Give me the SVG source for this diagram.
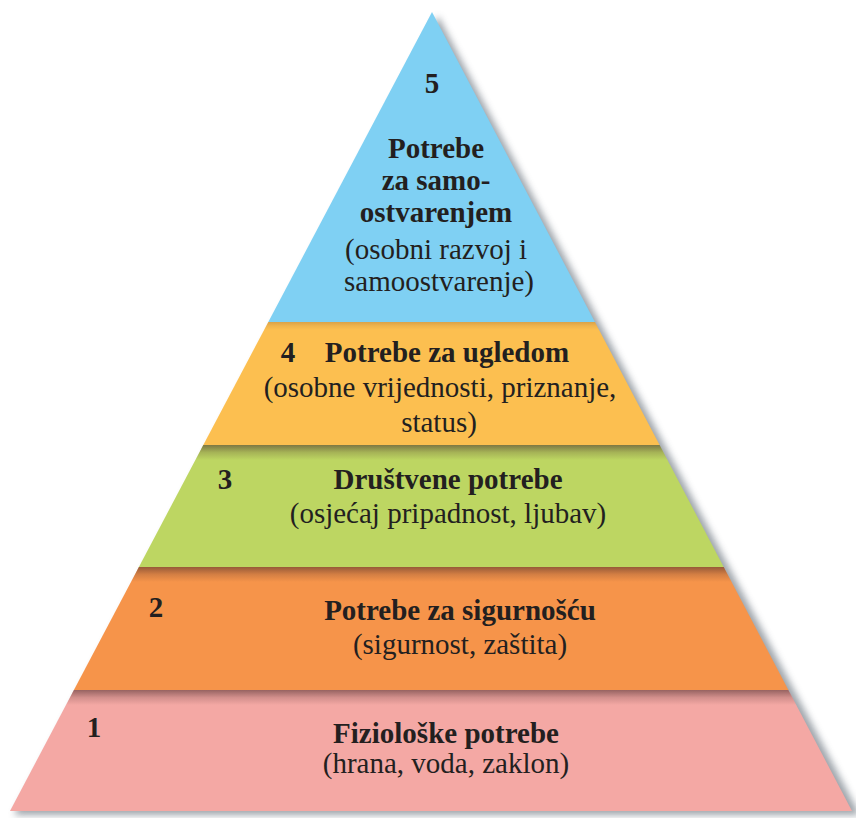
<svg xmlns="http://www.w3.org/2000/svg" width="856" height="818" viewBox="0 0 856 818">
  <style>
    text { font-family: "Liberation Serif", "Times New Roman", serif; font-size: 29px; fill: #231f20; text-anchor: middle; }
    .b { font-weight: bold; }
    .num { font-weight: bold; }
  </style>
  <defs>
    <filter id="blur" x="-10%" y="-10%" width="120%" height="120%">
      <feGaussianBlur stdDeviation="3.5"/>
    </filter>
    <linearGradient id="shade" x1="0" y1="0" x2="0" y2="1">
      <stop offset="0" stop-color="#4a2a2a" stop-opacity="0.55"/>
      <stop offset="0.5" stop-color="#4a2a2a" stop-opacity="0.2"/>
      <stop offset="1" stop-color="#4a2a2a" stop-opacity="0"/>
    </linearGradient>
    <clipPath id="c4"><polygon points="268.3,322 594.9,322 659.6,445 203.3,445"/></clipPath>
    <clipPath id="c3"><polygon points="203.3,445 659.6,445 723.7,567 138.9,567"/></clipPath>
    <clipPath id="c2"><polygon points="138.9,567 723.7,567 788.4,690 73.9,690"/></clipPath>
    <clipPath id="c1"><polygon points="73.9,690 788.4,690 852,811 10,811"/></clipPath>
  </defs>
  <rect width="856" height="818" fill="#ffffff"/>

  <g id="shadow">
    <polygon points="438,16 860,815 14,815" fill="#7f8790" opacity="0.75" filter="url(#blur)"/>
  </g>

  <g id="level5">
    <polygon points="432,12 594.9,322 268.3,322" fill="#7fd0f3"/>
    <text class="num" x="432" y="93">5</text>
    <text class="b" x="436" y="158">Potrebe</text>
    <text class="b" x="436" y="190">za samo-</text>
    <text class="b" x="436" y="222">ostvarenjem</text>
    <text x="436" y="259">(osobni razvoj i</text>
    <text x="439" y="291">samoostvarenje)</text>
  </g>

  <g id="level4">
    <polygon points="268.3,322 594.9,322 659.6,445 203.3,445" fill="#fcbf50"/>
    <rect x="190" y="322" width="480" height="8" fill="url(#shade)" clip-path="url(#c4)" opacity="0.35"/>
    <text class="num" x="288" y="362">4</text>
    <text class="b" x="447" y="362">Potrebe za ugledom</text>
    <text x="440" y="397">(osobne vrijednosti, priznanje,</text>
    <text x="439" y="432">status)</text>
  </g>

  <g id="level3">
    <polygon points="203.3,445 659.6,445 723.7,567 138.9,567" fill="#bdd662"/>
    <rect x="130" y="445" width="600" height="15" fill="url(#shade)" clip-path="url(#c3)"/>
    <text class="num" x="225" y="489">3</text>
    <text class="b" x="448" y="489">Društvene potrebe</text>
    <text x="448" y="523">(osjećaj pripadnost, ljubav)</text>
  </g>

  <g id="level2">
    <polygon points="138.9,567 723.7,567 788.4,690 73.9,690" fill="#f6944a"/>
    <rect x="70" y="567" width="725" height="15" fill="url(#shade)" clip-path="url(#c2)"/>
    <text class="num" x="156" y="617">2</text>
    <text class="b" x="460" y="620">Potrebe za sigurnošću</text>
    <text x="460" y="654">(sigurnost, zaštita)</text>
  </g>

  <g id="level1">
    <polygon points="73.9,690 788.4,690 852,811 10,811" fill="#f4a8a4"/>
    <rect x="5" y="690" width="850" height="15" fill="url(#shade)" clip-path="url(#c1)"/>
    <text class="num" x="94" y="737">1</text>
    <text class="b" x="446" y="743">Fiziološke potrebe</text>
    <text x="446" y="773">(hrana, voda, zaklon)</text>
  </g>
</svg>
